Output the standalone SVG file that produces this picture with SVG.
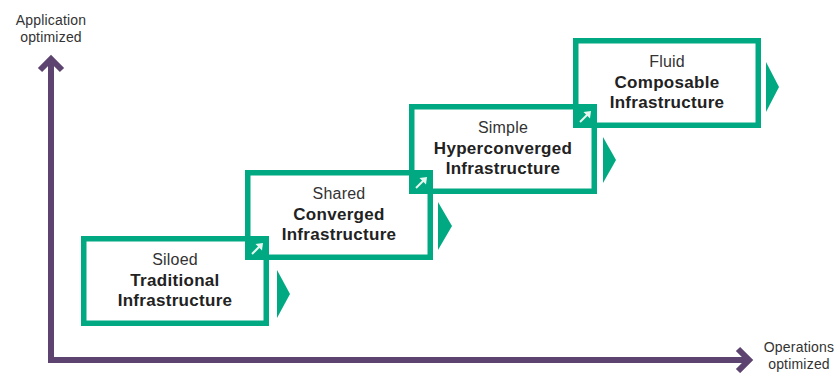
<svg xmlns="http://www.w3.org/2000/svg" width="838" height="373" viewBox="0 0 838 373">
<style>
.box{fill:none;stroke:#01A982;stroke-width:5.5}
.tri{fill:#01A982}
.join{fill:#01A982}
.jarrow{stroke:#e6f7f1;stroke-width:2;fill:none}
.jhead{fill:#e6f7f1}
.axis{stroke:#5d4470;stroke-width:6;fill:none}
.head{stroke:#5d4470;stroke-width:6;fill:none;stroke-linejoin:miter}
.t{font-family:"Liberation Sans",Arial,sans-serif;text-anchor:middle}
.r{font-size:16px;fill:#333;letter-spacing:0.2px}
.b{font-size:17px;font-weight:bold;fill:#222;letter-spacing:0.3px}
.ax{font-size:14px;fill:#333;letter-spacing:0.2px}
</style>
<rect width="838" height="373" fill="#fff"/>
<g id="connectors">
  <line class="axis" x1="51" y1="363" x2="51" y2="60"/>
  <polyline class="head" points="40,70 51,59 62,70"/>
  <line class="axis" x1="48" y1="360" x2="747" y2="360"/>
  <polyline class="head" points="738,349 749,360 738,371"/>
</g>
<g id="axis-y-label">
  <text class="t ax" x="51" y="25">Application</text>
  <text class="t ax" x="51" y="42">optimized</text>
</g>
<g id="axis-x-label">
  <text class="t ax" x="799" y="352">Operations</text>
  <text class="t ax" x="799" y="369">optimized</text>
</g>
<g id="node-traditional">
  <rect class="box" x="83.75" y="238.75" width="182.5" height="84.5"/>
  <polygon class="tri" points="277,270 290,294 277,318"/>
  <text class="t r" x="175" y="265">Siloed</text>
  <text class="t b" x="175" y="286">Traditional</text>
  <text class="t b" x="175" y="306">Infrastructure</text>
</g>
<g id="node-converged">
  <rect class="box" x="247.75" y="172.75" width="182.5" height="84.5"/>
  <polygon class="tri" points="438,202 452,226 438,250"/>
  <text class="t r" x="339" y="199">Shared</text>
  <text class="t b" x="339" y="220">Converged</text>
  <text class="t b" x="339" y="240">Infrastructure</text>
</g>
<g id="node-hyperconverged">
  <rect class="box" x="411.75" y="106.75" width="182.5" height="84.5"/>
  <polygon class="tri" points="603,137 616,160 603,183"/>
  <text class="t r" x="503" y="133">Simple</text>
  <text class="t b" x="503" y="154">Hyperconverged</text>
  <text class="t b" x="503" y="174">Infrastructure</text>
</g>
<g id="node-composable">
  <rect class="box" x="575.75" y="40.75" width="182.5" height="84.5"/>
  <polygon class="tri" points="766,62 779,87 766,112"/>
  <text class="t r" x="667" y="67">Fluid</text>
  <text class="t b" x="667" y="88">Composable</text>
  <text class="t b" x="667" y="108">Infrastructure</text>
</g>
<g id="joints">
  <g id="joint-1">
    <rect class="join" x="245" y="236" width="24" height="24"/>
    <line class="jarrow" x1="252" y1="254" x2="260" y2="246"/>
    <polygon class="jhead" points="263,243 255.5,244 262,250.5"/>
  </g>
  <g id="joint-2">
    <rect class="join" x="409" y="170" width="24" height="24"/>
    <line class="jarrow" x1="416" y1="188" x2="424" y2="180"/>
    <polygon class="jhead" points="427,177 419.5,178 426,184.5"/>
  </g>
  <g id="joint-3">
    <rect class="join" x="573" y="104" width="24" height="24"/>
    <line class="jarrow" x1="580" y1="122" x2="588" y2="114"/>
    <polygon class="jhead" points="591,111 583.5,112 590,118.5"/>
  </g>
</g>
</svg>
